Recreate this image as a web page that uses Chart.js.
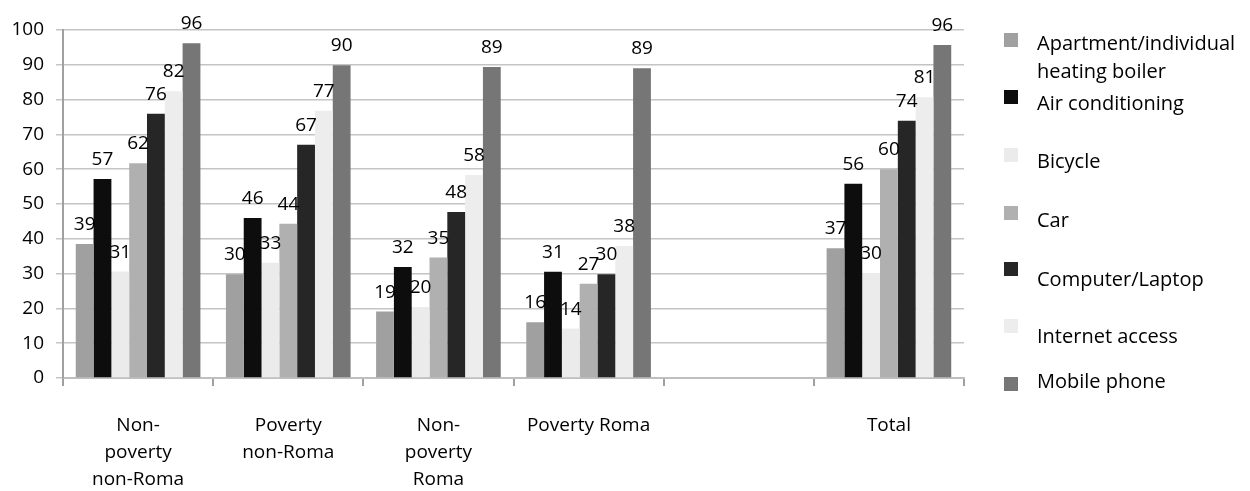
<!DOCTYPE html>
<html>
<head>
<meta charset="utf-8">
<script src="https://cdn.jsdelivr.net/npm/chart.js@4.4.1/dist/chart.umd.min.js"></script>
<style>
html,body{margin:0;padding:0;background:#fff;}
#wrap{width:1250px;height:491px;}
</style>
</head>
<body>
<div id="wrap"><canvas id="c" width="1250" height="491"></canvas></div>
<script>
const categories = [["Non-","poverty","non-Roma"],["Poverty","non-Roma"],["Non-","poverty","Roma"],"Poverty Roma","","Total"];
const seriesNames = [["Apartment/individual","heating boiler"],"Air conditioning","Bicycle","Car","Computer/Laptop","Internet access","Mobile phone"];
const apartment = [38.5, 29.8, 19.1, 16.0, null, 37.3];
const airCond   = [57.2, 46.0, 31.9, 30.5, null, 55.8];
const bicycle   = [30.6, 33.1, 20.4, 14.2, null, 30.2];
const car       = [61.7, 44.3, 34.6, 27.1, null, 60.0];
const computer  = [75.9, 67.0, 47.7, 29.8, null, 73.9];
const internet  = [82.4, 76.8, 58.3, 37.9, null, 80.7];
const mobile    = [96.2, 89.9, 89.4, 89.0, null, 95.7];
const yTicks = [0,10,20,30,40,50,60,70,80,90,100];
const colors = ["#A0A0A0","#0D0D0D","#EBEBEB","#B0B0B0","#262626","#EDEDED","#767676"];

const seriesData = [apartment, airCond, bicycle, car, computer, internet, mobile];
const FONT = "'Open Sans', sans-serif";

const datasets = seriesData.map((d,i)=>({
  label: Array.isArray(seriesNames[i]) ? seriesNames[i].join(' ') : seriesNames[i],
  data: d,
  backgroundColor: colors[i],
  borderWidth: 0,
  barPercentage: 1.0,
  categoryPercentage: 0.83
}));

const dataLabels = {
  id: 'dataLabels',
  afterDatasetsDraw(chart){
    const ctx = chart.ctx;
    ctx.save();
    ctx.font = "19px " + FONT;
    ctx.fillStyle = "#000";
    ctx.textAlign = "center";
    ctx.textBaseline = "alphabetic";
    chart.data.datasets.forEach((ds,di)=>{
      const meta = chart.getDatasetMeta(di);
      meta.data.forEach((el,i)=>{
        const v = ds.data[i];
        if (v === null || v === undefined) return;
        ctx.fillText(String(Math.round(v)), el.x, el.y - 14);
      });
    });
    ctx.restore();
  }
};

const legendPlugin = {
  id: 'customLegend',
  afterDraw(chart){
    const ctx = chart.ctx;
    const markerY = [40, 97, 155, 213, 269, 326, 384];
    const textY = [50, 110, 168, 227, 286, 343, 388];
    ctx.save();
    ctx.font = "20px " + FONT;
    ctx.fillStyle = "#000";
    ctx.textAlign = "left";
    ctx.textBaseline = "alphabetic";
    seriesNames.forEach((name,i)=>{
      ctx.fillStyle = colors[i];
      ctx.fillRect(1004, markerY[i]-7, 14, 14);
      ctx.fillStyle = "#000";
      const lines = Array.isArray(name) ? name : [name];
      lines.forEach((ln,k)=>{
        ctx.fillText(ln, 1037, textY[i] + k*28);
      });
    });
    ctx.restore();
  }
};

new Chart(document.getElementById('c'), {
  type: 'bar',
  data: { labels: categories, datasets },
  options: {
    responsive: false,
    animation: false,
    devicePixelRatio: 1,
    layout: { padding: { left: 0, right: 286, top: 30, bottom: 0 } },
    plugins: { legend: { display: false }, tooltip: { enabled: false } },
    scales: {
      x: {
        offset: true,
        grid: { offset: true, drawOnChartArea: false, drawTicks: true, tickLength: 8, color: "#A0A0A0", lineWidth: 2 },
        border: { color: "#BFBFBF", width: 2 },
        ticks: { font: { family: FONT, size: 19, lineHeight: 1.42 }, color: "#000", padding: 26, maxRotation: 0, autoSkip: false },
        afterFit(scale){ scale.height = 113; }
      },
      y: {
        min: 0, max: 100,
        afterBuildTicks(scale){ scale.ticks = yTicks.map(v=>({value:v})); },
        grid: { color: "#C4C4C4", lineWidth: 1.5, drawTicks: true, tickLength: 7 },
        border: { color: "#A0A0A0", width: 2 },
        ticks: { font: { family: FONT, size: 19 }, color: "#000", padding: 12 },
        afterFit(scale){ scale.width = 63; }
      }
    }
  },
  plugins: [dataLabels, legendPlugin]
});
</script>
</body>
</html>
